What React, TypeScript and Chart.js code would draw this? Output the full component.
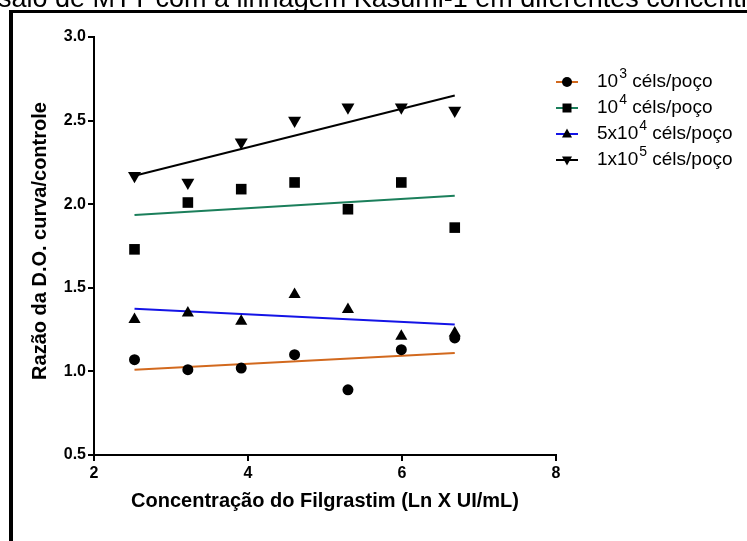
import React, { useEffect, useRef } from "react";
import { Chart, registerables } from "chart.js";

Chart.register(...registerables);

// ---- data ----
const xValues = [2.526, 3.219, 3.912, 4.605, 5.298, 5.991, 6.685];
const s1000 = [1.07, 1.01, 1.02, 1.10, 0.89, 1.13, 1.20];
const s10000 = [1.73, 2.01, 2.09, 2.13, 1.97, 2.13, 1.86];
const s50000 = [1.31, 1.35, 1.30, 1.46, 1.37, 1.21, 1.23];
const s100000 = [2.17, 2.13, 2.37, 2.50, 2.58, 2.58, 2.56];

// fitted regression line end points
const fitX = [2.526, 6.685];
const fit1000 = [1.01, 1.11];
const fit10000 = [1.935, 2.05];
const fit50000 = [1.375, 1.28];
const fit100000 = [2.17, 2.65];

const yTicks = [0.5, 1.0, 1.5, 2.0, 2.5, 3.0];
const xTicks = [2, 4, 6, 8];

const legendPre = ["10", "10", "5x10", "1x10"];
const legendSup = ["3", "4", "4", "5"];
const legendPost = [" céls/poço", " céls/poço", " céls/poço", " céls/poço"];

const captionText = "Ensaio de MTT com a linhagem Kasumi-1 em diferentes concentrações";
const xTitle = "Concentração do Filgrastim (Ln X UI/mL)";
const yTitle = "Razão da D.O. curva/controle";

const colors = ["#D2691E", "#1B7F5B", "#1414E6", "#000000"];
const markers = ["circle", "rect", "triangle", "downTriangle"];
const FONT = '"Liberation Sans", Arial, sans-serif';

function drawMarker(ctx: CanvasRenderingContext2D, kind: string, x: number, y: number, r: number) {
  ctx.beginPath();
  if (kind === "circle") {
    ctx.arc(x, y, r, 0, Math.PI * 2);
  } else if (kind === "rect") {
    ctx.rect(x - r, y - r, 2 * r, 2 * r);
  } else if (kind === "triangle") {
    const h = r * 1.8;
    ctx.moveTo(x, y - h * 0.6);
    ctx.lineTo(x + r, y + h * 0.4);
    ctx.lineTo(x - r, y + h * 0.4);
    ctx.closePath();
  } else {
    const h = r * 1.8;
    ctx.moveTo(x, y + h * 0.6);
    ctx.lineTo(x + r, y - h * 0.4);
    ctx.lineTo(x - r, y - h * 0.4);
    ctx.closePath();
  }
  ctx.fill();
}

const decorPlugin = {
  id: "decor",
  afterDraw(chart: any) {
    const ctx: CanvasRenderingContext2D = chart.ctx;
    const ca = chart.chartArea;
    ctx.save();
    ctx.fillStyle = "#000";
    // caption, cut at the top
    ctx.font = `27px ${FONT}`;
    ctx.textAlign = "left";
    ctx.textBaseline = "alphabetic";
    ctx.fillText(captionText, -35, 7);
    // frame
    ctx.fillRect(9, 10, 4, 600);
    ctx.fillRect(9, 10, 800, 3);
    // x title
    ctx.font = `bold 20px ${FONT}`;
    ctx.textAlign = "center";
    ctx.textBaseline = "middle";
    ctx.fillText(xTitle, (ca.left + ca.right) / 2, 501);
    // y title
    ctx.save();
    ctx.translate(40, 241);
    ctx.rotate(-Math.PI / 2);
    ctx.fillText(yTitle, 0, 0);
    ctx.restore();
    // legend
    const rows = [82, 108, 134, 160];
    for (let i = 0; i < 4; i++) {
      const y = rows[i];
      ctx.strokeStyle = colors[i];
      ctx.lineWidth = 2;
      ctx.beginPath();
      ctx.moveTo(556, y);
      ctx.lineTo(578, y);
      ctx.stroke();
      ctx.fillStyle = "#000";
      drawMarker(ctx, markers[i], 567, y, i === 1 ? 4.5 : 5);
      ctx.textAlign = "left";
      ctx.textBaseline = "middle";
      let x = 597;
      ctx.font = `19px ${FONT}`;
      ctx.fillText(legendPre[i], x, y);
      x += ctx.measureText(legendPre[i]).width + 1;
      ctx.font = `14px ${FONT}`;
      ctx.fillText(legendSup[i], x, y - 8);
      x += ctx.measureText(legendSup[i]).width;
      ctx.font = `19px ${FONT}`;
      ctx.fillText(legendPost[i], x, y);
    }
    ctx.restore();
  },
};

export default function App() {
  const ref = useRef<HTMLCanvasElement | null>(null);
  useEffect(() => {
    if (!ref.current) return;
    const toPts = (ys: number[], xs: number[]) => ys.map((y, i) => ({ x: xs[i], y }));
    const series = [s1000, s10000, s50000, s100000];
    const fits = [fit1000, fit10000, fit50000, fit100000];
    const pointStyles: any[] = ["circle", "rect", "triangle", "triangle"];
    const radii = [5.5, 7.5, 7, 7.5];
    const rotations = [0, 0, 0, 180];
    const scatterSets = series.map((s, i) => ({
      type: "scatter" as const,
      data: toPts(s, xValues),
      showLine: false,
      pointStyle: pointStyles[i],
      pointRadius: radii[i],
      pointRotation: rotations[i],
      backgroundColor: "#000",
      borderColor: "#000",
      borderWidth: 0,
    }));
    const lineSets = fits.map((f, i) => ({
      type: "line" as const,
      data: toPts(f, fitX),
      showLine: true,
      pointRadius: 0,
      borderColor: colors[i],
      borderWidth: 2,
      fill: false,
    }));
    const chart = new Chart(ref.current, {
      type: "scatter",
      data: { datasets: [...scatterSets, ...lineSets] as any },
      options: {
        animation: false,
        responsive: false,
        devicePixelRatio: 1,
        layout: { padding: { top: 37, right: 191, left: 0, bottom: 0 } },
        plugins: { legend: { display: false }, tooltip: { enabled: false } },
        scales: {
          x: {
            type: "linear",
            min: xTicks[0],
            max: xTicks[xTicks.length - 1],
            afterFit: (s: any) => { s.height = 86; },
            afterBuildTicks: (s: any) => { s.ticks = xTicks.map((v) => ({ value: v })); },
            ticks: {
              color: "#000",
              font: { family: FONT, size: 16, weight: "bold" },
              padding: 3,
              callback: (v: any) => String(v),
            },
            grid: { drawOnChartArea: false, drawTicks: true, tickLength: 6, color: "#000", lineWidth: 2 },
            border: { display: true, color: "#000", width: 2 },
          },
          y: {
            type: "linear",
            min: yTicks[0],
            max: yTicks[yTicks.length - 1],
            afterFit: (s: any) => { s.width = 94; },
            afterBuildTicks: (s: any) => { s.ticks = yTicks.map((v) => ({ value: v })); },
            ticks: {
              color: "#000",
              font: { family: FONT, size: 16, weight: "bold" },
              padding: 2,
              callback: (v: any) => Number(v).toFixed(1),
            },
            grid: { drawOnChartArea: false, drawTicks: true, tickLength: 6, color: "#000", lineWidth: 2 },
            border: { display: true, color: "#000", width: 2 },
          },
        },
      },
      plugins: [decorPlugin],
    });
    return () => chart.destroy();
  }, []);
  return (
    <div style={{ position: "fixed", left: 0, top: 0, width: 747, height: 541, background: "#fff" }}>
      <canvas ref={ref} width={747} height={541} style={{ display: "block", width: 747, height: 541 }} />
    </div>
  );
}
